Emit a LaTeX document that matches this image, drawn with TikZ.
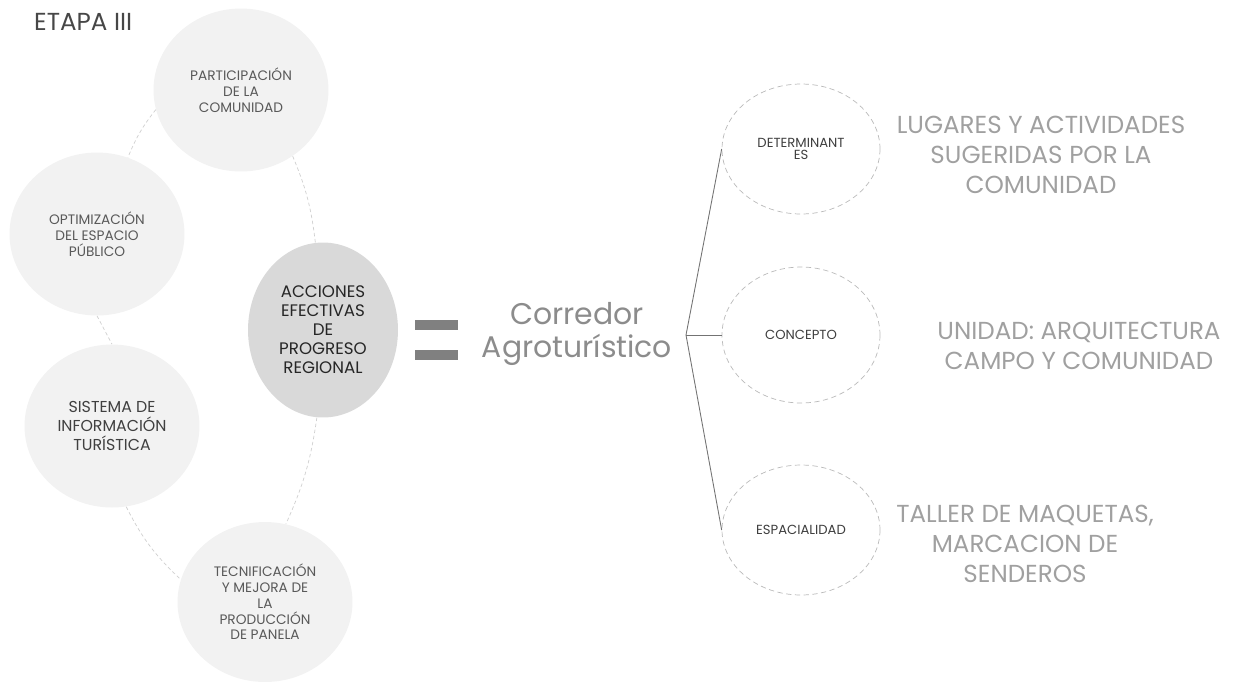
\documentclass[tikz,border=0pt]{standalone}
\usepackage{fontspec}
\setmainfont{Poppins}
\usepackage{xcolor}
\usetikzlibrary{shapes.geometric}

\definecolor{bubble}{HTML}{F2F2F2}
\definecolor{bubbledark}{HTML}{D9D9D9}
\definecolor{linkgray}{HTML}{CFCFCF}
\definecolor{textgray}{HTML}{595959}
\definecolor{softgray}{HTML}{A0A0A0}

\tikzset{
  bubble/.style={ellipse, fill=bubble, minimum width=3.5cm, minimum height=3.26cm,
    align=center, text=textgray, font=\fontsize{7.8}{9}\selectfont, inner sep=0pt},
  link/.style={draw=linkgray, dashed, dash pattern=on 2pt off 1.5pt, line width=0.4pt},
  ring/.style={ellipse, draw=linkgray!90!black, dashed, dash pattern=on 3pt off 2pt,
    minimum width=3.16cm, minimum height=2.6cm, align=center, text=textgray!70!black,
    font=\fontsize{7.5}{6.5}\selectfont, inner sep=0pt},
  note/.style={align=center, text=softgray, font=\fontsize{14}{17}\selectfont}
}

\begin{document}
\begin{tikzpicture}[x=0.02cm, y=-0.02cm]
    \useasboundingbox (0,0) rectangle (1233,681);

    % Title text
    \node[text=textgray!80!black, font=\fontsize{14}{14}\selectfont, anchor=west] (title) at (28,22) {ETAPA III};

    % Bubbles of the stage
    \node[bubble] (part) at (241,90) {PARTICIPACIÓN\\DE LA\\COMUNIDAD};
    \node[bubble] (opt) at (97,234) {OPTIMIZACIÓN\\DEL ESPACIO\\PÚBLICO};
    \node[bubble, fill=bubbledark, minimum width=3cm, minimum height=3.5cm,
      text=black!85, font=\fontsize{9.5}{10.8}\selectfont] (acc) at (323,330)
      {ACCIONES\\EFECTIVAS\\DE\\PROGRESO\\REGIONAL};
    \node[bubble, text=black!75, font=\fontsize{9}{10.8}\selectfont] (sist) at (112,426)
      {SISTEMA DE\\INFORMACIÓN\\TURÍSTICA};
    \node[bubble, minimum height=3.2cm] (tec) at (265,602)
      {TECNIFICACIÓN\\Y MEJORA DE\\LA\\PRODUCCIÓN\\DE PANELA};

    % Dashed links round the ring
    \draw[link] (part.193) to[bend right=8] (opt.68);
    \draw[link] (part.308) to[bend left=8] (acc.95);
    \draw[link] (opt.south) -- (sist.north);
    \draw[link] (sist.280) to[bend right=10] (tec.165);
    \draw[link] (acc.266) to[bend left=8] (tec.75);

    % Equal sign
    \fill[black!50] (415,320) rectangle (458,330);
    \fill[black!50] (415,350) rectangle (458,360);

    % Result
    \node[text=black!45, align=center, font=\fontsize{17}{18.7}\selectfont] (corr) at (577,334)
      {Corredor\\Agroturístico};

    % Branches
    \coordinate (fork) at (686,335);
    \node[ring] (det) at (801,149) {DETERMINANT\\ES};
    \node[ring, minimum height=2.72cm] (conc) at (801,335) {CONCEPTO};
    \node[ring] (esp) at (801,530) {ESPACIALIDAD};
    \foreach \n in {det,conc,esp} {
        \draw[black!55, line width=0.5pt] (fork) -- (\n.west);
    }

    % Notes beside the branches
    \node[note] (n1) at (1041,155) {LUGARES Y ACTIVIDADES\\SUGERIDAS POR LA\\COMUNIDAD};
    \node[note] (n2) at (1079,346) {UNIDAD: ARQUITECTURA\\CAMPO Y COMUNIDAD};
    \node[note] (n3) at (1025,544) {TALLER DE MAQUETAS,\\MARCACION DE\\SENDEROS};
\end{tikzpicture}
\end{document}
